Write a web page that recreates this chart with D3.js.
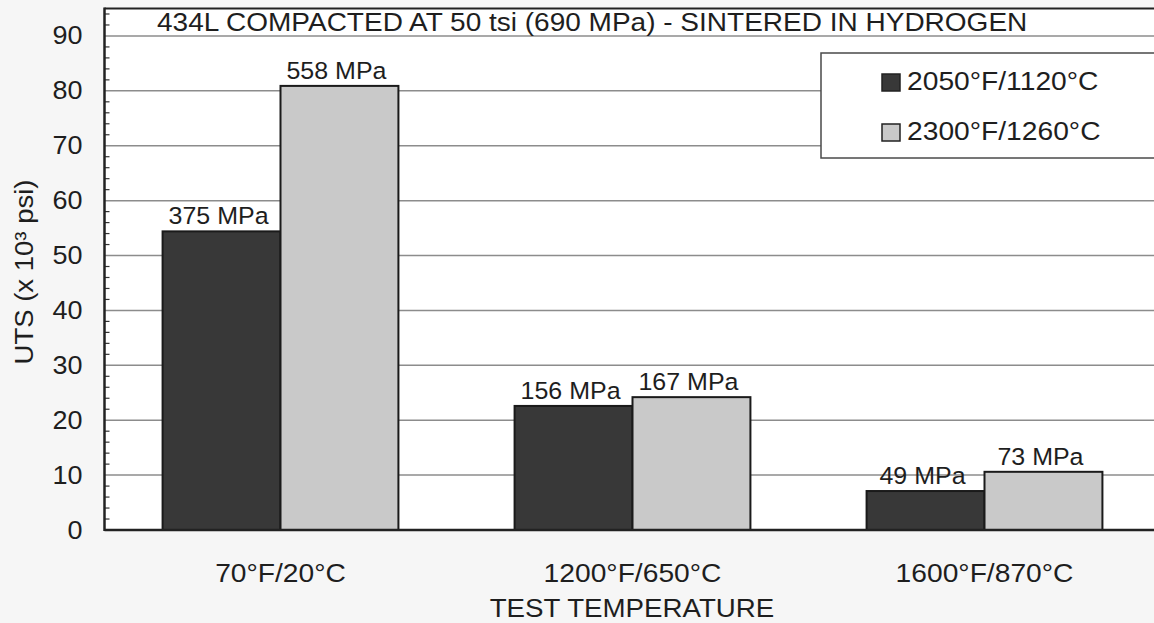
<!DOCTYPE html>
<html>
<head>
<meta charset="utf-8">
<script src="https://cdn.jsdelivr.net/npm/d3@7"></script>
<style>
  html, body { margin: 0; padding: 0; background: #f6f6f6; }
  svg { display: block; }
  text { font-family: "Liberation Sans", Arial, sans-serif; fill: #1e1e1e; }
</style>
</head>
<body>
<svg id="chart" width="1154" height="623"></svg>
<script>
// ---- data ----
const categories = ["70°F/20°C", "1200°F/650°C", "1600°F/870°C"];
const seriesNames = ["2050°F/1120°C", "2300°F/1260°C"];
const valuesSeries1 = [54.4, 22.6, 7.1];   // UTS x10^3 psi (2050°F)
const valuesSeries2 = [80.9, 24.2, 10.6];  // UTS x10^3 psi (2300°F)
const labelsSeries1 = ["375 MPa", "156 MPa", "49 MPa"];
const labelsSeries2 = ["558 MPa", "167 MPa", "73 MPa"];
const yTicks = [0, 10, 20, 30, 40, 50, 60, 70, 80, 90];
const titleText = "434L COMPACTED AT 50 tsi (690 MPa) - SINTERED IN HYDROGEN";
const yLabel = "UTS (x 10³ psi)";
const xLabel = "TEST TEMPERATURE";

const colors = ["#383838", "#c9c9c9"];

(function () {
const svg = d3.select("#chart");
const pLeft = 104.5, pRight = 1160.5, pTop = 8.5, pBottom = 530;

// widen text horizontally (reference glyphs are slightly stretched)
function stretch(sel, f) {
  sel.each(function () {
    const w = this.getComputedTextLength();
    d3.select(this).attr("textLength", w * f).attr("lengthAdjust", "spacingAndGlyphs");
  });
}

const x = d3.scaleBand().domain(categories).range([pLeft, pRight])
  .paddingInner(0.33).paddingOuter(0.165);
const x1 = d3.scaleBand().domain(seriesNames).range([0, x.bandwidth()]);
const y = d3.scaleLinear().domain([0, 95]).range([pBottom, pTop]);

// plot background
svg.append("rect").attr("x", pLeft).attr("y", pTop)
  .attr("width", pRight - pLeft).attr("height", pBottom - pTop).attr("fill", "#ffffff");

// gridlines
svg.append("g").selectAll("line").data(yTicks.filter(d => d > 0)).join("line")
  .attr("x1", pLeft).attr("x2", pRight)
  .attr("y1", d => y(d)).attr("y2", d => y(d))
  .attr("stroke", "#8c8c8c").attr("stroke-width", 1.5);

// minor ticks (inside)
const minor = d3.range(2, 95, 2).filter(d => d % 10 !== 0);
svg.append("g").selectAll("line").data(minor).join("line")
  .attr("x1", pLeft).attr("x2", pLeft + 5)
  .attr("y1", d => y(d)).attr("y2", d => y(d))
  .attr("stroke", "#333").attr("stroke-width", 1.2);

// y axis labels
const yAxis = d3.axisLeft(y).tickValues(yTicks).tickSize(0).tickPadding(22);
const gy = svg.append("g").attr("transform", `translate(${pLeft},0)`).call(yAxis);
gy.select(".domain").remove();
gy.selectAll("text").attr("font-size", 25).attr("fill", "#1e1e1e")
  .style("font-family", "'Liberation Sans', Arial, sans-serif");
stretch(gy.selectAll("text"), 1.08);

// bars
const data = categories.map((c, i) => ({
  cat: c,
  vals: [
    { s: seriesNames[0], v: valuesSeries1[i], lab: labelsSeries1[i], col: colors[0] },
    { s: seriesNames[1], v: valuesSeries2[i], lab: labelsSeries2[i], col: colors[1] }
  ]
}));
const groups = svg.append("g").selectAll("g").data(data).join("g")
  .attr("transform", d => `translate(${x(d.cat)},0)`);
groups.selectAll("rect").data(d => d.vals).join("rect")
  .attr("x", d => x1(d.s)).attr("width", x1.bandwidth())
  .attr("y", d => y(d.v)).attr("height", d => y(0) - y(d.v))
  .attr("fill", d => d.col).attr("stroke", "#1a1a1a").attr("stroke-width", 2);
const vl = groups.selectAll("text").data(d => d.vals).join("text")
  .attr("x", d => x1(d.s) + x1.bandwidth() / 2 - 3)
  .attr("y", d => y(d.v) - 7)
  .attr("text-anchor", "middle").attr("font-size", 24.5)
  .text(d => d.lab);
stretch(vl, 1.02);

// frame lines
svg.append("line").attr("x1", pLeft).attr("x2", pRight).attr("y1", pTop).attr("y2", pTop)
  .attr("stroke", "#222").attr("stroke-width", 2);
svg.append("line").attr("x1", pLeft).attr("x2", pLeft).attr("y1", pTop - 1).attr("y2", pBottom + 1)
  .attr("stroke", "#222").attr("stroke-width", 2.5);
svg.append("line").attr("x1", pLeft).attr("x2", pRight).attr("y1", pBottom).attr("y2", pBottom)
  .attr("stroke", "#222").attr("stroke-width", 2.5);

// x category labels
const xAxis = d3.axisBottom(x).tickSize(0).tickPadding(0);
const gx = svg.append("g").attr("transform", `translate(0,${pBottom})`).call(xAxis);
gx.select(".domain").remove();
gx.selectAll("text").attr("font-size", 26).attr("fill", "#1e1e1e")
  .attr("dy", null).attr("y", 52)
  .style("font-family", "'Liberation Sans', Arial, sans-serif");
stretch(gx.selectAll("text"), 1.085);

// title
const tt = svg.append("text").attr("x", 157).attr("y", 31).attr("font-size", 25).text(titleText);
stretch(tt, 1.12);

// axis titles
const xt = svg.append("text").attr("x", 632).attr("y", 617).attr("text-anchor", "middle")
  .attr("font-size", 26).text(xLabel);
stretch(xt, 1.065);
const yt = svg.append("text").attr("transform", "translate(33,272) rotate(-90)")
  .attr("text-anchor", "middle").attr("font-size", 25).text(yLabel);
stretch(yt, 1.1);

// legend
const lg = svg.append("g");
lg.append("rect").attr("x", 821).attr("y", 53).attr("width", 345).attr("height", 105)
  .attr("fill", "#ffffff").attr("stroke", "#4a4a4a").attr("stroke-width", 1.5);
const li = lg.selectAll("g").data(seriesNames).join("g")
  .attr("transform", (d, i) => `translate(882,${74 + i * 50})`);
li.append("rect").attr("width", 18).attr("height", 17)
  .attr("fill", (d, i) => colors[i]).attr("stroke", "#222").attr("stroke-width", 1.5);
const lt = li.append("text").attr("x", 25).attr("y", 16).attr("font-size", 26).text(d => d);
stretch(lt, 1.085);
})();
</script>
</body>
</html>
